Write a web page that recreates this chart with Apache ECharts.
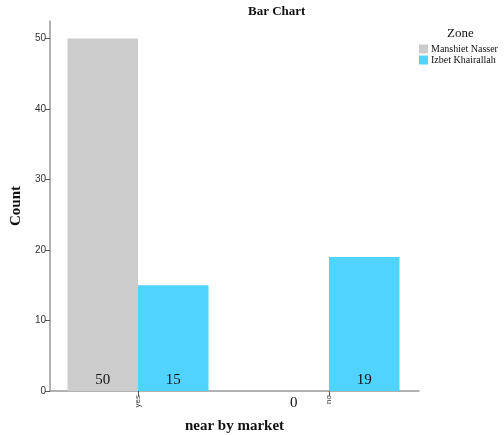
<!DOCTYPE html>
<html>
<head>
<meta charset="utf-8">
<script src="https://cdn.jsdelivr.net/npm/echarts@6/dist/echarts.min.js"></script>
<style>html,body{margin:0;padding:0;background:#fff;}#chart{width:504px;height:435px;}</style>
</head>
<body>
<div id="chart"></div>
<script>
var categories = ['yes', 'no'];
var seriesNames = ['Manshiet Nasser', 'Izbet Khairallah'];
var manshietNasser = [50, 0];
var izbetKhairallah = [15, 19];
var yTicks = [0, 10, 20, 30, 40, 50];
var yMax = 52.5;

var colors = ['#cccccc', '#50d3ff'];
var serif = '"Liberation Serif", "DejaVu Serif", serif';
var sans = '"Liberation Sans", Arial, sans-serif';

function toData(arr) {
  return arr.map(function (v) {
    return v === 0 ? { value: v, label: { position: 'bottom', distance: 5 } } : { value: v };
  });
}

var labelStyle = {
  show: true,
  position: 'insideBottom',
  distance: 3,
  fontFamily: serif,
  fontSize: 15,
  color: '#111'
};

var chart = echarts.init(document.getElementById('chart'), null, { renderer: 'canvas' });
chart.setOption({
  animation: false,
  color: colors,
  title: [
    { text: 'Bar Chart', left: 248, top: 5, padding: 0,
      textStyle: { fontFamily: serif, fontSize: 13, fontWeight: 'bold', color: '#111' } },
    { text: 'Zone', left: 447, top: 27, padding: 0,
      textStyle: { fontFamily: serif, fontSize: 13, fontWeight: 'normal', color: '#111' } }
  ],
  legend: {
    orient: 'vertical',
    left: 419,
    top: 44,
    padding: 0,
    itemWidth: 9,
    itemHeight: 9,
    itemGap: 1,
    icon: 'rect',
    data: seriesNames,
    textStyle: { fontFamily: serif, fontSize: 10, color: '#111', padding: [0, 0, 0, -2] }
  },
  grid: [
    { left: 42.5, width: 382, top: 21, bottom: 44, containLabel: false, outerBoundsMode: 'none' },
    { left: 50, right: 85, top: 21, bottom: 44, containLabel: false, outerBoundsMode: 'none' }
  ],
  xAxis: [
    { type: 'category', gridIndex: 0, data: categories,
      axisLine: { show: false },
      axisTick: { show: true, alignWithLabel: true, length: 5, lineStyle: { color: '#555' } },
      axisLabel: { rotate: 90, fontSize: 8, fontFamily: sans, color: '#333', margin: 4 } },
    { type: 'value', gridIndex: 1, min: 0, max: 1,
      axisLine: { show: true, lineStyle: { color: '#999', width: 1.5 } },
      axisTick: { show: false }, axisLabel: { show: false }, splitLine: { show: false },
      name: 'near by market', nameLocation: 'middle', nameGap: 28,
      nameTextStyle: { fontFamily: serif, fontSize: 15, fontWeight: 'bold', color: '#111' } }
  ],
  yAxis: [
    { type: 'value', gridIndex: 0, min: 0, max: yMax, show: false },
    { type: 'value', gridIndex: 1, min: 0, max: yMax,
      axisLine: { show: true, lineStyle: { color: '#999', width: 1.5 } },
      axisTick: { show: true, length: 5, customValues: yTicks, lineStyle: { color: '#555' } },
      axisLabel: { customValues: yTicks, fontSize: 10, fontFamily: sans, color: '#333', margin: 4 },
      splitLine: { show: false },
      name: 'Count', nameLocation: 'middle', nameGap: 23, nameRotate: 90,
      nameTextStyle: { fontFamily: serif, fontSize: 15, fontWeight: 'bold', color: '#111' } }
  ],
  series: [
    { name: seriesNames[0], type: 'bar', xAxisIndex: 0, yAxisIndex: 0,
      barWidth: 70.5, barGap: 0, data: toData(manshietNasser), label: labelStyle },
    { name: seriesNames[1], type: 'bar', xAxisIndex: 0, yAxisIndex: 0,
      barWidth: 70.5, barGap: 0, data: toData(izbetKhairallah), label: labelStyle }
  ]
});
</script>
</body>
</html>
